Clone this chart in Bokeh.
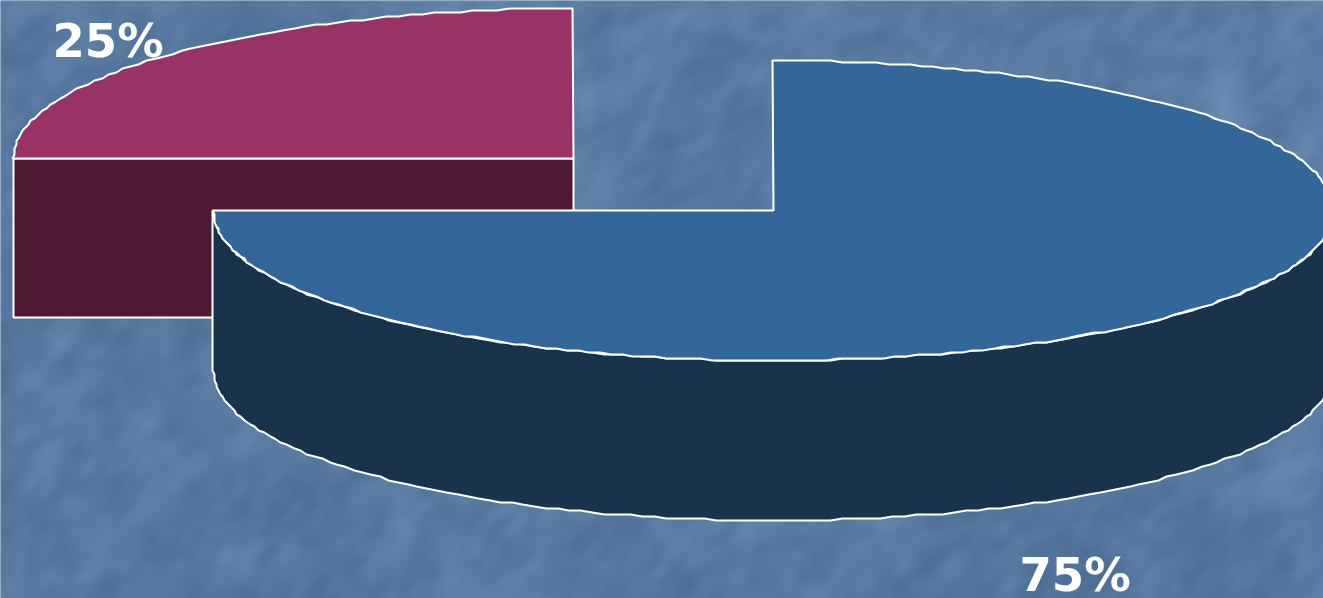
import numpy as np
from bokeh.plotting import figure
from bokeh.embed import file_html
from bokeh.resources import INLINE
from bokeh.core.properties import value

# Data
categories = ["A", "B"]
shares = [25, 75]
labels = ["25%", "75%"]
top_colors = ["#993366", "#336699"]
side_colors = ["#4D1A33", "#1A334D"]

W, H = 1323, 598
RX, RY, DEPTH = 560, 150, 160
centers = [(573, 158), (773, 210)]
label_pos = [(52, 40), (1019, 574)]


def quant(v, g):
    return np.round(np.asarray(v) / g) * g


def Y(v):
    return H - np.asarray(v, dtype=float)


def arc(cx, cy, a0, a1, n):
    # screen-space angles, y downward; coarse grid gives the chart's rough edge
    t = np.radians(np.linspace(a0, a1, n))
    x = cx + RX * np.cos(t)
    y = cy + RY * np.sin(t)
    return quant(x, 2.0), quant(y, 2.0)


p = figure(width=W, height=H, x_range=(0, W), y_range=(0, H),
           output_backend="svg", toolbar_location=None, min_border=0,
           outline_line_color=None, background_fill_color="#5B7CA3",
           border_fill_color="#5B7CA3")
p.axis.visible = False
p.grid.visible = False
p.styles = {"position": "fixed", "left": "0px", "top": "0px"}

# Mottled stone backdrop (decoration only): band-limited noise with diagonal grain
rs = np.random.RandomState(4)
h2, w2 = H // 2 + 1, W // 2 + 1


def grain(long_s, short_s):
    fy = np.fft.fftfreq(h2)[:, None]
    fx = np.fft.fftfreq(w2)[None, :]
    u = (fx + fy) / np.sqrt(2)
    v = (fx - fy) / np.sqrt(2)
    gain = np.exp(-2 * np.pi ** 2 * ((u * long_s) ** 2 + (v * short_s) ** 2))
    out = np.fft.ifft2(np.fft.fft2(rs.randn(h2, w2)) * gain).real
    return out / out.std()


g = 0.7 * grain(4, 2.5) + 0.7 * grain(10, 6) + 0.6 * grain(35, 22)
yy, xx = np.mgrid[0:h2, 0:w2]
trend = 5 * (xx / w2) + 5 * (yy / h2 - 0.6)
L = np.clip(g * 3.6 + trend, -20, 24)
img = np.zeros((h2, w2), dtype=np.uint32)
view = img.view(np.uint8).reshape(h2, w2, 4)
view[..., 0] = np.clip(88 + L, 0, 255)
view[..., 1] = np.clip(122 + L, 0, 255)
view[..., 2] = np.clip(161 + L, 0, 255)
view[..., 3] = 255
p.image_rgba(image=[img], x=0, y=0, dw=W, dh=H)


# Angles derived from shares, starting at the top of each slice
def sweep(share):
    return 360.0 * share / sum(shares)


# Slice A (25%): upper-left quarter, pulled out
cx, cy = centers[0]
a_start = -90.0 - sweep(shares[0])
ax, ay = arc(cx, cy, a_start, -90.0, 70)
p.patch([cx - RX, cx, cx, cx - RX], Y([cy, cy, cy + DEPTH - 1, cy + DEPTH - 1]),
        fill_color=side_colors[0], line_color="white", line_width=2)
p.patch(list(ax) + [cx], Y(list(ay) + [cy]),
        fill_color=top_colors[0], line_color="white", line_width=2)

# Slice B (75%)
cx, cy = centers[1]
b_end = -90.0 + sweep(shares[1])
bx, by = arc(cx, cy, -90.0, b_end, 230)
fx, fy = arc(cx, cy, 0.0, 180.0, 140)
p.patch(list(fx) + list(fx[::-1]), Y(list(fy) + list((fy + DEPTH)[::-1])),
        fill_color=side_colors[1], line_color="white", line_width=2)
p.patch(list(bx) + [cx], Y(list(by) + [cy]),
        fill_color=top_colors[1], line_color="white", line_width=2)

# Labels
for (lx, ly), t in zip(label_pos, labels):
    p.text(x=[lx], y=[H - ly], text=[t], text_color="white",
           text_font=value("DejaVu Sans"), text_font_style="bold",
           text_font_size="46.5px", text_align="left", text_baseline="alphabetic")

open("out.html", "w").write(file_html(p, INLINE))
